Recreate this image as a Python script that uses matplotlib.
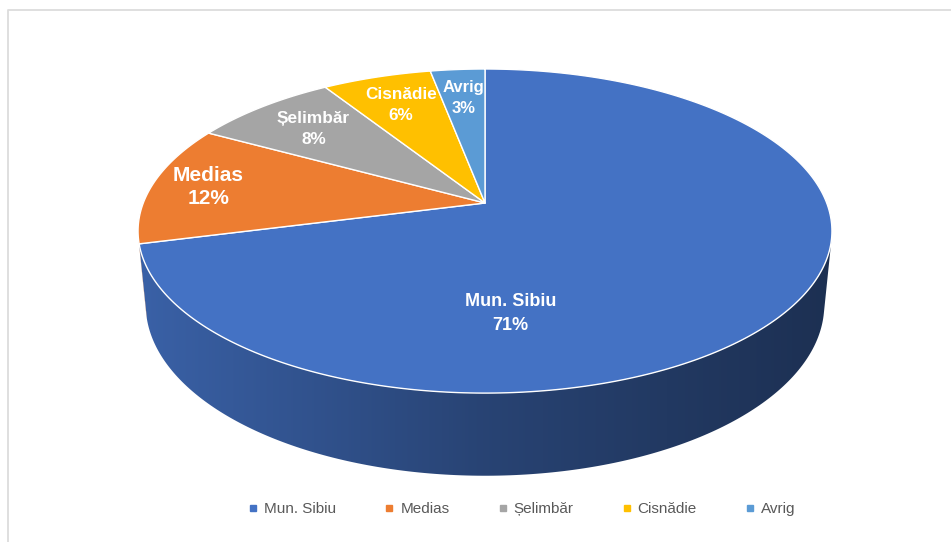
import numpy as np
import matplotlib
matplotlib.use('Agg')
import matplotlib.pyplot as plt
from matplotlib.patches import Polygon
from matplotlib.lines import Line2D

plt.rcParams['font.family'] = ['Liberation Sans', 'DejaVu Sans']

# ---------------- data ----------------
categories = ['Mun. Sibiu', 'Medias', 'Șelimbăr', 'Cisnădie', 'Avrig']
shares = [71, 12, 8, 6, 3]
colors = ['#4472C4', '#ED7D31', '#A5A5A5', '#FFC000', '#5B9BD5']

# label styling / placement (radius fraction along wedge middle)
label_sizes = [13, 15, 12.4, 12.3, 12]
label_spacing = [1.5, 1.25, 1.5, 1.45, 1.55]
label_radius = [0.63, 0.83, 0.75, 0.75, 0.76]

W, H = 951, 542
fig = plt.figure(figsize=(W / 100, H / 100), dpi=100)
ax = fig.add_axes([0, 0, 1, 1])

# ---------------- 3D perspective camera ----------------
CX, CY = 485, 203
F = 1753.0
DIST = 5.13
SIN = 0.46
COS = np.sqrt(1 - SIN ** 2)
THICK = 0.245


def proj(x, y, z):
    x = np.asarray(x, float); y = np.asarray(y, float); z = np.asarray(z, float)
    dy = y - DIST * SIN
    dz = z + DIST * COS
    w = -dy * SIN + dz * COS
    yc = dy * COS + dz * SIN
    return CX + F * x / w, CY - F * yc / w


total = float(sum(shares))
starts, ends = [], []
a0 = 90.0
for s in shares:
    a1 = a0 - s / total * 360.0
    starts.append(a0); ends.append(a1)
    a0 = a1

# front-facing range of the cylinder wall
thr = np.degrees(np.arcsin(1.0 / (DIST * COS)))
front_lo, front_hi = -180.0 + thr, -thr

shade_x = [140, 485, 830]
shade_f = [0.85, 0.59, 0.42]

# ---------------- side walls ----------------
for i in range(len(shares)):
    lo = max(ends[i], front_lo)
    hi = min(starts[i], front_hi)
    if hi <= lo:
        continue
    th = np.radians(np.linspace(lo, hi, 200))
    tx, ty = proj(np.cos(th), np.zeros_like(th), np.sin(th))
    bx, by = proj(np.cos(th), -THICK * np.ones_like(th), np.sin(th))
    xs = np.concatenate([tx, bx[::-1]])
    ys = np.concatenate([ty, by[::-1]])
    poly = Polygon(np.column_stack([xs, ys]), closed=True, facecolor='none',
                   edgecolor='none')
    ax.add_patch(poly)
    x0, x1 = xs.min() - 2, xs.max() + 2
    gx = np.linspace(x0, x1, 400)
    fac = np.interp(gx, shade_x, shade_f)
    base = np.array(matplotlib.colors.to_rgb(colors[i]))
    img = (fac[:, None] * base[None, :])[None, :, :]
    im = ax.imshow(img, extent=(x0, x1, ys.max() + 2, ys.min() - 2),
                   aspect='auto', interpolation='bilinear', zorder=1)
    im.set_clip_path(poly)

# ---------------- top face ----------------
for i in range(len(shares)):
    th = np.radians(np.linspace(starts[i], ends[i], 300))
    ax_, ay_ = proj(np.cos(th), np.zeros_like(th), np.sin(th))
    cx0, cy0 = proj(0, 0, 0)
    xs = np.concatenate([[cx0], ax_])
    ys = np.concatenate([[cy0], ay_])
    ax.add_patch(Polygon(np.column_stack([xs, ys]), closed=True,
                         facecolor=colors[i], edgecolor='white',
                         linewidth=1.0, zorder=2, joinstyle='round'))

# ---------------- labels ----------------
for i in range(len(shares)):
    mid = (starts[i] + ends[i]) / 2.0
    r = label_radius[i]
    if i == 0:
        mid = -84.0   # large slice label is moved to the visible front
    lx, ly = proj(r * np.cos(np.radians(mid)), 0, r * np.sin(np.radians(mid)))
    ax.text(float(lx), float(ly), f"{categories[i]}\n{shares[i]}%",
            ha='center', va='center', color='white', fontweight='bold',
            fontsize=label_sizes[i], linespacing=label_spacing[i], zorder=5)

ax.set_xlim(0, W)
ax.set_ylim(H, 0)
ax.axis('off')

# ---------------- frame ----------------
ax.plot([8, 8, W + 5], [H + 5, 10, 10], color='#dcdcdc', lw=1.3,
        clip_on=False, zorder=0)

# ---------------- legend ----------------
handles = [Line2D([], [], marker='s', linestyle='none', markersize=4.5,
                  color=c) for c in colors]
fig.legend(handles, categories, loc='center',
           bbox_to_anchor=(522 / W, 1 - 509 / H), ncol=5, frameon=False,
           fontsize=11, handlelength=0.6, handletextpad=0.42,
           columnspacing=3.17, labelcolor='#595959')

fig.savefig('out.png', dpi=100)
